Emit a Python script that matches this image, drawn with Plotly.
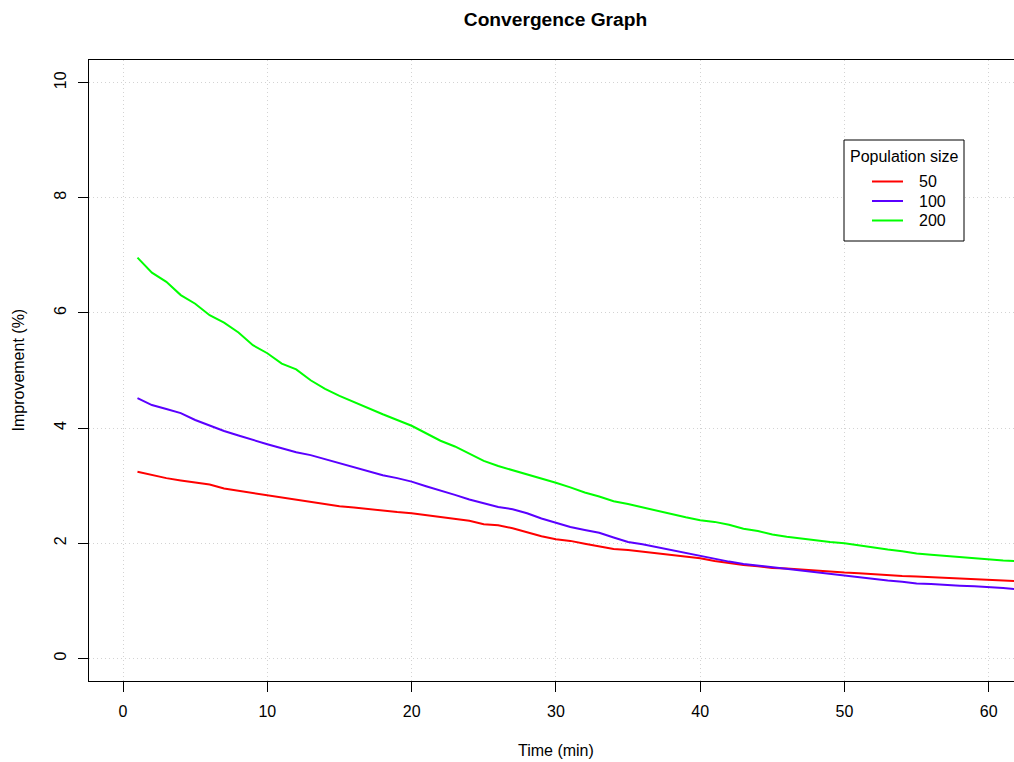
import plotly.graph_objects as go

time_min = list(range(1, 63))

pop_50 = [3.24, 3.18, 3.13, 3.09, 3.06, 3.02, 2.95, 2.91, 2.88, 2.83,
          2.79, 2.75, 2.71, 2.67, 2.64, 2.62, 2.59, 2.56, 2.54, 2.52,
          2.49, 2.45, 2.42, 2.39, 2.33, 2.31, 2.26, 2.19, 2.12, 2.07,
          2.04, 1.99, 1.94, 1.90, 1.88, 1.85, 1.82, 1.79, 1.77, 1.74,
          1.69, 1.65, 1.62, 1.60, 1.57, 1.56, 1.54, 1.52, 1.50, 1.49,
          1.48, 1.46, 1.45, 1.43, 1.42, 1.41, 1.40, 1.39, 1.38, 1.37,
          1.36, 1.34]

pop_100 = [4.52, 4.40, 4.33, 4.26, 4.14, 4.04, 3.95, 3.87, 3.79, 3.72,
           3.65, 3.58, 3.53, 3.46, 3.39, 3.32, 3.26, 3.18, 3.13, 3.07,
           2.99, 2.92, 2.84, 2.76, 2.69, 2.63, 2.59, 2.52, 2.43, 2.36,
           2.28, 2.23, 2.18, 2.10, 2.02, 1.98, 1.93, 1.87, 1.82, 1.78,
           1.73, 1.68, 1.64, 1.61, 1.58, 1.56, 1.53, 1.49, 1.46, 1.43,
           1.40, 1.37, 1.35, 1.33, 1.30, 1.29, 1.27, 1.26, 1.25, 1.24,
           1.22, 1.20]

pop_200 = [6.96, 6.70, 6.54, 6.31, 6.16, 5.96, 5.83, 5.66, 5.44, 5.30,
           5.12, 5.02, 4.83, 4.68, 4.56, 4.45, 4.34, 4.24, 4.14, 4.04,
           3.91, 3.78, 3.68, 3.56, 3.43, 3.34, 3.27, 3.20, 3.13, 3.05,
           2.97, 2.88, 2.81, 2.73, 2.68, 2.62, 2.56, 2.50, 2.45, 2.40,
           2.37, 2.32, 2.25, 2.21, 2.15, 2.11, 2.08, 2.04, 2.02, 2.00,
           1.96, 1.92, 1.89, 1.86, 1.82, 1.80, 1.78, 1.75, 1.73, 1.72,
           1.70, 1.69]

series_names = ["50", "100", "200"]
series_values = [pop_50, pop_100, pop_200]
series_colors = ["#FF0000", "#5A00FF", "#00FF00"]
legend_title = "Population size"

x_ticks = [0, 10, 20, 30, 40, 50, 60]
y_ticks = [0, 2, 4, 6, 8, 10]

FONT = "Liberation Sans, Arial, Helvetica, sans-serif"

# plot-area geometry (pixels) used for paper-coordinate conversions
L, R, T, B = 89, 1014, 60, 681
W, H = R - L, B - T


def px(xp):
    return (xp - L) / W


def py(yp):
    return (B - yp) / H


fig = go.Figure()
for name, vals, col in zip(series_names, series_values, series_colors):
    fig.add_trace(go.Scatter(x=time_min, y=vals, mode="lines", name=name,
                             line=dict(color=col, width=2), showlegend=False))

shapes = []
annotations = [
    dict(text="Time (min)", xref="paper", yref="paper",
         x=px(555.5), y=py(750), xanchor="center", yanchor="middle",
         showarrow=False, font=dict(size=16, family=FONT)),
    dict(text="Improvement (%)", xref="paper", yref="paper",
         x=px(18), y=0.5, xanchor="center", yanchor="middle",
         textangle=-90, showarrow=False, font=dict(size=16, family=FONT)),
]

# legend box (R-style)
shapes.append(dict(type="rect", xref="paper", yref="paper",
                   x0=px(844), x1=px(964), y0=py(241), y1=py(140),
                   line=dict(color="black", width=1), fillcolor="white", layer="above"))
annotations.append(dict(text=legend_title, xref="paper", yref="paper",
                        x=px(904.5), y=py(156), xanchor="center", yanchor="middle",
                        showarrow=False, font=dict(size=16, family=FONT)))
row_y = [181.5, 201, 220.5]
for name, col, ry in zip(series_names, series_colors, row_y):
    shapes.append(dict(type="line", xref="paper", yref="paper",
                       x0=px(872), x1=px(903), y0=py(ry), y1=py(ry),
                       line=dict(color=col, width=2), layer="above"))
    annotations.append(dict(text=name, xref="paper", yref="paper",
                            x=px(917), y=py(ry), xanchor="left", yanchor="middle",
                            showarrow=False, font=dict(size=16, family=FONT)))

fig.update_layout(
    width=1014, height=762,
    margin=dict(l=L, r=1014 - R, t=T, b=762 - B),
    paper_bgcolor="white", plot_bgcolor="white",
    font=dict(family=FONT, size=16, color="black"),
    title=dict(text="<b>Convergence Graph</b>", font=dict(size=19.2, family=FONT, color="black"),
               xref="container", yref="container", x=555.5 / 1014, y=1 - 19 / 762,
               xanchor="center", yanchor="middle"),
    showlegend=False,
    xaxis=dict(range=[-2.36, 61.75], tickvals=x_ticks, ticks="outside", ticklen=10,
               tickcolor="black", tickwidth=1, showline=True, mirror=True,
               linecolor="black", linewidth=1, showgrid=True, gridcolor="#D3D3D3",
               griddash="1px,3px", gridwidth=1, zeroline=False, ticklabelstandoff=6,
               tickfont=dict(size=16, family=FONT)),
    yaxis=dict(range=[-0.394, 10.394], tickvals=y_ticks, ticks="outside", ticklen=10,
               tickcolor="black", tickwidth=1, showline=True, mirror=False,
               linecolor="black", linewidth=1, showgrid=True, gridcolor="#D3D3D3",
               griddash="1px,3px", gridwidth=1, zeroline=False, tickangle=-90,
               ticklabelstandoff=6, tickfont=dict(size=16, family=FONT)),
    shapes=shapes,
    annotations=annotations,
)

fig.write_html("out.html")
